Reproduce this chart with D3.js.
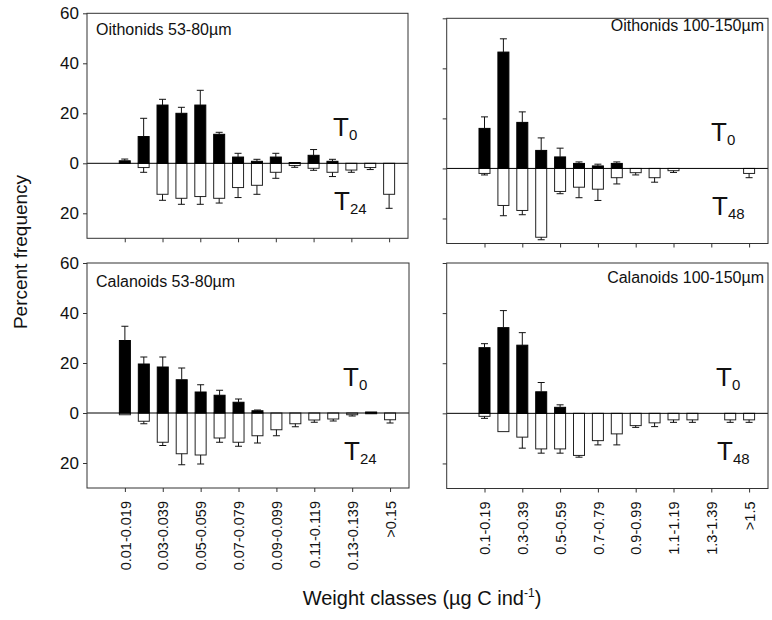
<!DOCTYPE html>
<html>
<head>
<meta charset="utf-8">
<title>Weight classes</title>
<script src="https://d3js.org/d3.v7.min.js"></script>
<style>
body { margin: 0; background: #fff; }
svg text { font-family: "Liberation Sans", Arial, sans-serif; fill: #111; }
</style>
</head>
<body>
<script>
// weight classes (µg C ind-1)
var smallClasses = ["0.01-0.019", "0.02-0.029", "0.03-0.039", "0.04-0.049", "0.05-0.059",
    "0.06-0.069", "0.07-0.079", "0.08-0.089", "0.09-0.099", "0.10-0.109", "0.11-0.119",
    "0.12-0.129", "0.13-0.139", "0.14-0.149", ">0.15"];
var largeClasses = ["0.1-0.19", "0.2-0.29", "0.3-0.39", "0.4-0.49", "0.5-0.59", "0.6-0.69",
    "0.7-0.79", "0.8-0.89", "0.9-0.99", "1.0-1.09", "1.1-1.19", "1.2-1.29", "1.3-1.39",
    "1.4-1.49", ">1.5"];
var yTicks = [-20, 0, 20, 40, 60];

// Oithonids 53-80um
var oith53T0 = [1, 10.7, 23.3, 20, 23.3, 11.6, 2.5, 0.8, 2.5, 0.3, 3.2, 0.8, 0, 0, 0];
var oith53T0Se = [0.7, 7.3, 2.3, 2.4, 5.9, 0.8, 1.5, 0.8, 1.5, 0, 2.3, 0.8, 0, 0, 0];
var oith53T24 = [0, 1.7, 12.4, 14, 13.3, 14, 9.7, 8.8, 3.6, 0.9, 2, 3.6, 2.7, 1.7, 12.4];
var oith53T24Se = [0, 1.9, 2.4, 2.4, 3.1, 1.9, 4, 3.6, 2.4, 0.7, 0.8, 1.7, 0.9, 0.8, 5.6];

// Oithonids 100-150um
var oith100T0 = [16, 46.5, 18.4, 7.2, 4.6, 2, 1, 2, 0, 0, 0, 0, 0, 0, 0];
var oith100T0Se = [4.6, 5.3, 4.2, 5, 3.5, 0.6, 0.7, 0.6, 0, 0, 0, 0, 0, 0, 0];
var oith100T48 = [2, 14.8, 16.8, 27.5, 9.2, 7.5, 8.3, 3.7, 1.7, 3.7, 0.9, 0, 0, 0, 2];
var oith100T48Se = [0.6, 4.1, 1.7, 1, 0.9, 4.2, 4.5, 2.5, 0.9, 1.8, 0.7, 0, 0, 0, 1.7];

// Calanoids 53-80um
var cal53T0 = [29, 19.6, 18.4, 13.3, 8.4, 7.1, 4.3, 0.9, 0, 0, 0, 0, 0, 0.4, 0];
var cal53T0Se = [5.7, 2.8, 4, 4.7, 2.9, 2, 1.3, 0.3, 0, 0, 0, 0, 0, 0, 0];
var cal53T24 = [0.7, 3.3, 11.7, 16.3, 16.8, 10, 11.7, 9.1, 6.7, 4.3, 2.8, 2.4, 0.7, 0.3, 2.7];
var cal53T24Se = [0, 1, 1.3, 4.4, 3.6, 1.7, 1.6, 2.9, 2.4, 1.2, 0.9, 0.8, 0.5, 0, 1.3];

// Calanoids 100-150um
var cal100T0 = [26.2, 34.2, 27.2, 8.6, 2.4, 0, 0, 0, 0, 0, 0, 0, 0, 0, 0];
var cal100T0Se = [1.6, 6.8, 5, 3.7, 1, 0, 0, 0, 0, 0, 0, 0, 0, 0, 0];
var cal100T48 = [1.2, 7.3, 9.5, 14.2, 14.2, 16.8, 10.9, 8.2, 4.9, 3.8, 2.6, 2.6, 0, 2.6, 2.6];
var cal100T48Se = [0.8, 0, 4.4, 1.7, 1.7, 0.7, 1.7, 4.4, 0.7, 1.5, 1, 1, 0, 1, 1];

var svg = d3.select("body").append("svg")
    .attr("width", 772)
    .attr("height", 620);

var barW = 11,
    capW = 7;

function drawPanel(p) {
    var x = d3.scaleLinear().domain([-2, 15]).range([p.left, p.right]);
    var y = d3.scaleLinear().domain([-30, 60]).range([p.bottom, p.top]);
    var g = svg.append("g");

    var t0 = p.t0.map(function(v, i) { return { i: i, v: v, se: p.t0Se[i] }; });
    var t1 = p.t1.map(function(v, i) { return { i: i, v: v, se: p.t1Se[i] }; });

    // later time: white bars hanging below zero
    g.selectAll(".wbar").data(t1.filter(function(d) { return d.v > 0; }))
        .enter().append("rect")
        .attr("x", function(d) { return x(d.i) - barW / 2; })
        .attr("y", y(0))
        .attr("width", barW)
        .attr("height", function(d) { return y(-d.v) - y(0); })
        .attr("fill", "#fff")
        .attr("stroke", "#222")
        .attr("stroke-width", 1);

    g.selectAll(".bbar").data(t0.filter(function(d) { return d.v > 0; }))
        .enter().append("rect")
        .attr("x", function(d) { return x(d.i) - barW / 2; })
        .attr("y", function(d) { return y(d.v); })
        .attr("width", barW)
        .attr("height", function(d) { return y(0) - y(d.v); })
        .attr("fill", "#000")
        .attr("stroke", "#000")
        .attr("stroke-width", 1);

    // error bars
    var errs = [];
    t0.forEach(function(d) { if (d.se > 0) errs.push({ i: d.i, a: d.v, b: d.v + d.se }); });
    t1.forEach(function(d) { if (d.se > 0) errs.push({ i: d.i, a: -d.v, b: -d.v - d.se }); });

    g.selectAll(".err").data(errs).enter().append("line")
        .attr("x1", function(d) { return x(d.i); })
        .attr("x2", function(d) { return x(d.i); })
        .attr("y1", function(d) { return y(d.a); })
        .attr("y2", function(d) { return y(Math.max(d.b, -30)); })
        .attr("stroke", "#111");
    g.selectAll(".cap").data(errs.filter(function(d) { return d.b > -30; })).enter().append("line")
        .attr("x1", function(d) { return x(d.i) - capW / 2; })
        .attr("x2", function(d) { return x(d.i) + capW / 2; })
        .attr("y1", function(d) { return y(d.b); })
        .attr("y2", function(d) { return y(d.b); })
        .attr("stroke", "#111");

    // zero line
    g.append("line")
        .attr("x1", x(-2)).attr("x2", x(15))
        .attr("y1", y(0)).attr("y2", y(0))
        .attr("stroke", "#000");

    // frame
    g.append("rect")
        .attr("x", x(-2)).attr("y", y(60))
        .attr("width", x(15) - x(-2)).attr("height", y(-30) - y(60))
        .attr("fill", "none")
        .attr("stroke", "#333");

    var yAxis = d3.axisLeft(y)
        .tickValues(yTicks)
        .tickSize(4)
        .tickSizeOuter(0)
        .tickFormat(p.yLabels ? function(d) { return Math.abs(d); } : "");
    var ya = g.append("g")
        .attr("transform", "translate(" + x(-2) + ",0)")
        .call(yAxis);
    ya.select(".domain").remove();
    ya.selectAll("line").attr("stroke", "#333");
    ya.selectAll("text").style("font-size", "17px").attr("x", -8);

    var xAxis = d3.axisBottom(x)
        .tickValues(d3.range(0, 15, 2))
        .tickSize(4)
        .tickSizeOuter(0)
        .tickFormat(p.xLabels ? function(i) { return p.classes[i]; } : "");
    var xa = g.append("g")
        .attr("transform", "translate(0," + y(-30) + ")")
        .call(xAxis);
    xa.select(".domain").remove();
    xa.selectAll("line").attr("stroke", "#333");
    xa.selectAll("text")
        .style("font-size", "14.5px")
        .attr("transform", "rotate(-90)")
        .attr("text-anchor", "end")
        .attr("x", -13)
        .attr("y", 0)
        .attr("dy", "0.36em");

    // panel title
    g.append("text")
        .attr("x", p.titleX)
        .attr("y", p.titleY)
        .attr("text-anchor", p.titleAnchor)
        .style("font-size", "16px")
        .text(p.title);

    // time labels
    function timeLabel(tx, ty, sub) {
        var t = g.append("text").attr("x", tx).attr("y", ty);
        t.append("tspan").style("font-size", "26px").text("T");
        t.append("tspan").style("font-size", "15px").attr("dy", 4).text(sub);
    }
    timeLabel(p.labX, y(0) - 27, "0");
    timeLabel(p.labX + 1, y(0) + 47, p.later);
}

drawPanel({ left: 87, right: 408, top: 13.3, bottom: 238.3,
    t0: oith53T0, t0Se: oith53T0Se, t1: oith53T24, t1Se: oith53T24Se, later: "24",
    classes: smallClasses, xLabels: false, yLabels: true,
    title: "Oithonids 53-80\u00b5m", titleX: 96, titleY: 35, titleAnchor: "start", labX: 333 });

drawPanel({ left: 446.7, right: 768, top: 18.3, bottom: 243.5,
    t0: oith100T0, t0Se: oith100T0Se, t1: oith100T48, t1Se: oith100T48Se, later: "48",
    classes: largeClasses, xLabels: false, yLabels: false,
    title: "Oithonids 100-150\u00b5m", titleX: 764, titleY: 31, titleAnchor: "end", labX: 711 });

drawPanel({ left: 87, right: 409, top: 263, bottom: 488,
    t0: cal53T0, t0Se: cal53T0Se, t1: cal53T24, t1Se: cal53T24Se, later: "24",
    classes: smallClasses, xLabels: true, yLabels: true,
    title: "Calanoids 53-80\u00b5m", titleX: 96, titleY: 287, titleAnchor: "start", labX: 343 });

drawPanel({ left: 446.7, right: 768, top: 263, bottom: 488.5,
    t0: cal100T0, t0Se: cal100T0Se, t1: cal100T48, t1Se: cal100T48Se, later: "48",
    classes: largeClasses, xLabels: true, yLabels: false,
    title: "Calanoids 100-150\u00b5m", titleX: 764, titleY: 283, titleAnchor: "end", labX: 716 });

// axis titles
svg.append("text")
    .attr("transform", "translate(27,252) rotate(-90)")
    .attr("text-anchor", "middle")
    .style("font-size", "19px")
    .text("Percent frequency");

var xt = svg.append("text")
    .attr("x", 422)
    .attr("y", 605)
    .attr("text-anchor", "middle")
    .style("font-size", "20px");
xt.append("tspan").text("Weight classes (\u00b5g C ind");
xt.append("tspan").attr("dy", -8).style("font-size", "12px").text("-1");
xt.append("tspan").attr("dy", 8).text(")");
</script>
</body>
</html>
